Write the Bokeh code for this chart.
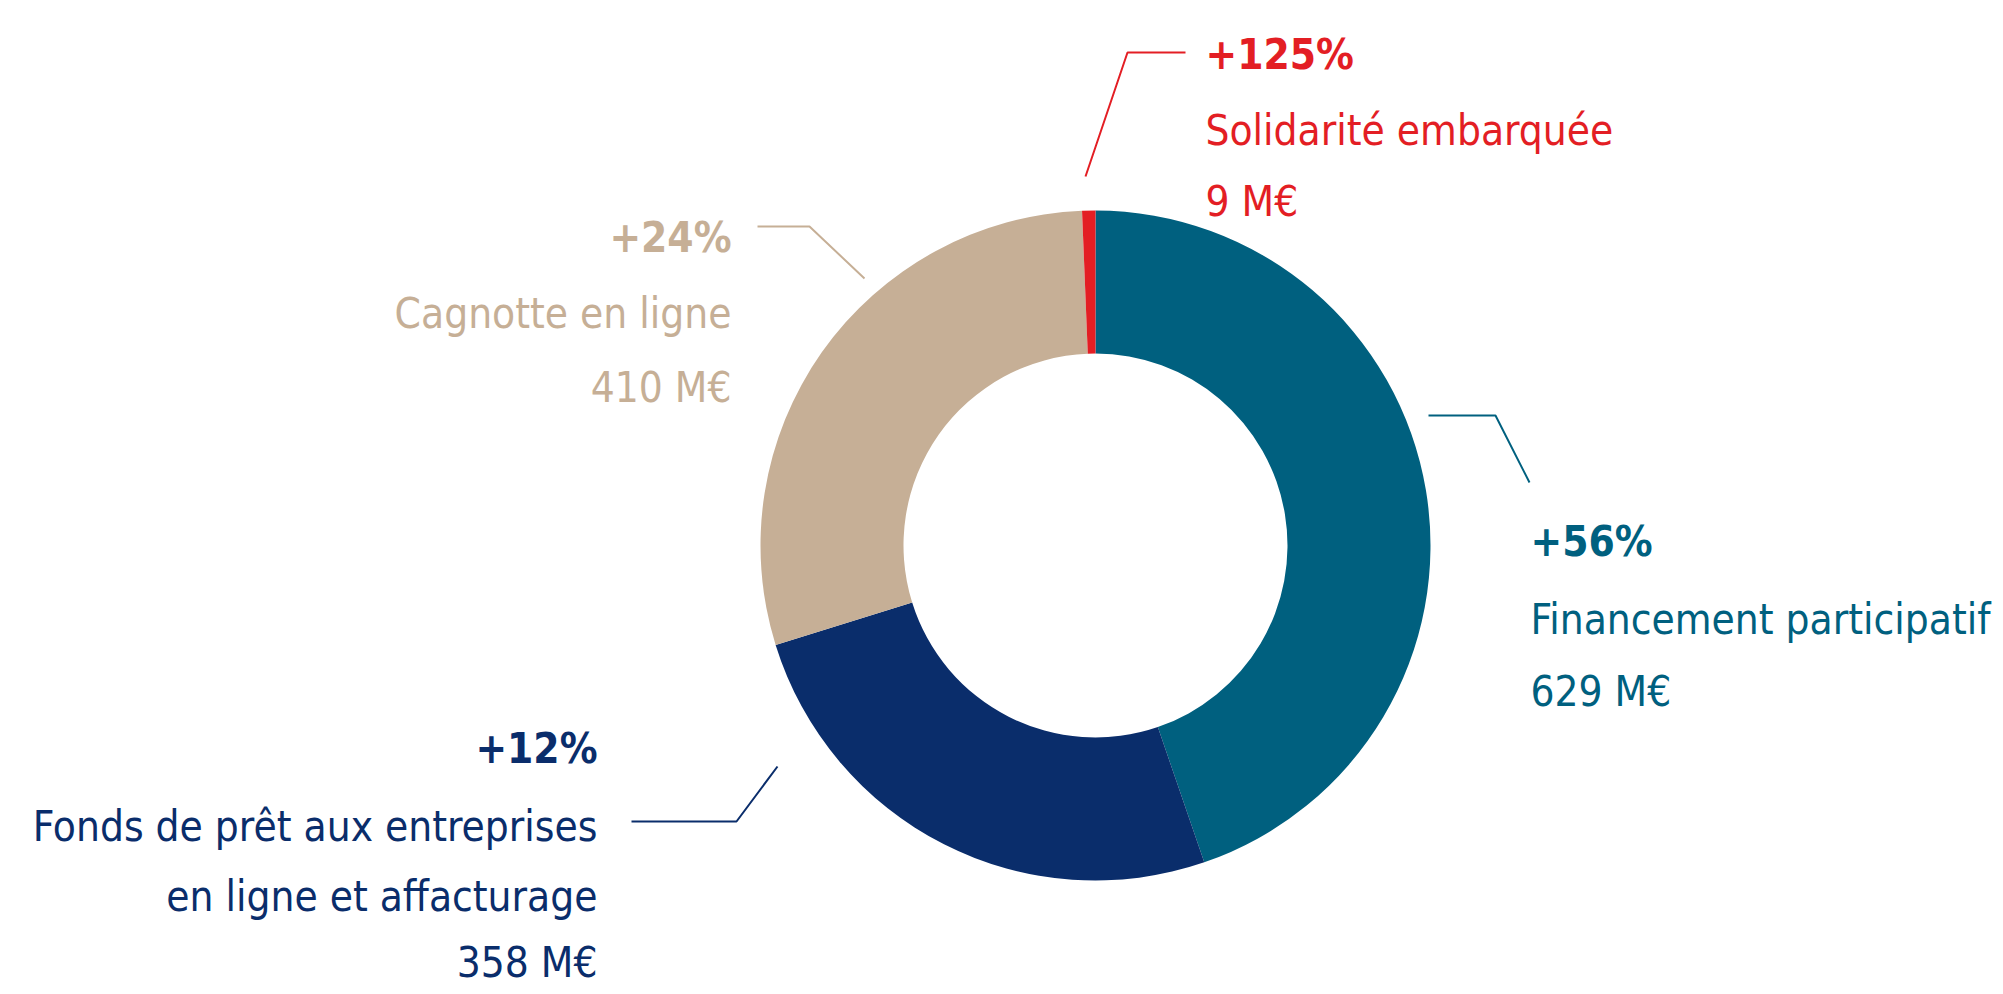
import numpy as np
from bokeh.plotting import figure
from bokeh.models import Range1d, ColumnDataSource
from bokeh.core.properties import value
from bokeh.embed import file_html
from bokeh.resources import INLINE

# ---- data ----
categories = ["Financement participatif", "Fonds de prêt aux entreprises\nen ligne et affacturage",
              "Cagnotte en ligne", "Solidarité embarquée"]
amounts = [629, 358, 410, 9]          # M€
growth = ["+56%", "+12%", "+24%", "+125%"]
amount_labels = ["629 M€", "358 M€", "410 M€", "9 M€"]
colors = ["#00607F", "#0A2D6B", "#C6AF96", "#E31E24"]

# ---- layout (pixel-space helpers; screen y -> data y = 994 - Y) ----
W, H = 1995, 986
FONT = "'DejaVu Sans Condensed', 'Liberation Sans Narrow', sans-serif"

def Y(y):
    return 994 - y

p = figure(width=W, height=H, output_backend="svg", toolbar_location=None,
           x_range=Range1d(0, W), y_range=Range1d(994 - H, 994),
           min_border=0, outline_line_color=None)
p.axis.visible = False
p.grid.visible = False
p.background_fill_color = "white"

# donut
cx, cy = 1095, Y(545)
frac = np.array(amounts) / np.sum(amounts)
cum = np.concatenate([[0], np.cumsum(frac)])
start = np.pi / 2 - cum[:-1] * 2 * np.pi
end = np.pi / 2 - cum[1:] * 2 * np.pi
src = ColumnDataSource(dict(start=start, end=end, color=colors))
p.annular_wedge(x=cx, y=cy, inner_radius=192, outer_radius=335,
                start_angle="start", end_angle="end", direction="clock",
                fill_color="color", line_color=None, source=src)

# label blocks: anchor x, alignment, baselines (growth, name lines..., amount), leader
blocks = [
    dict(x=1530, align="left", base=[541, 619, 691],
         leader=[(1428, 415), (1495, 415), (1529, 482)]),
    dict(x=597, align="right", base=[748, 826, 896, 962],
         leader=[(631, 821), (736, 821), (777, 766)]),
    dict(x=731, align="right", base=[237, 313, 387],
         leader=[(757, 226), (809, 226), (864, 278)]),
    dict(x=1205, align="left", base=[54, 130, 201],
         leader=[(1185, 52), (1127, 52), (1085, 176)]),
]

for i, b in enumerate(blocks):
    col = colors[i]
    lines = categories[i].split("\n")
    p.text(x=[b["x"]], y=[Y(b["base"][0])], text=[growth[i]],
           text_font=value(FONT), text_font_style="bold", text_font_size="42px",
           text_color=col, text_align=b["align"], text_baseline="alphabetic")
    for j, ln in enumerate(lines):
        p.text(x=[b["x"]], y=[Y(b["base"][1 + j])], text=[ln],
               text_font=value(FONT), text_font_size="42px",
               text_color=col, text_align=b["align"], text_baseline="alphabetic")
    p.text(x=[b["x"]], y=[Y(b["base"][-1])], text=[amount_labels[i]],
           text_font=value(FONT), text_font_size="42px",
           text_color=col, text_align=b["align"], text_baseline="alphabetic")
    lx = [pt[0] for pt in b["leader"]]
    ly = [Y(pt[1]) for pt in b["leader"]]
    p.line(lx, ly, line_color=col, line_width=2)

open("out.html", "w").write(file_html(p, INLINE))
